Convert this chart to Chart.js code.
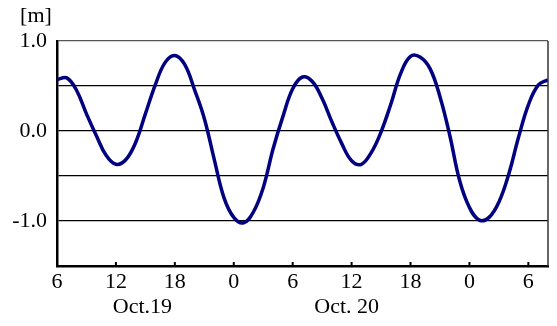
<!DOCTYPE html>
<html>
<head>
<meta charset="utf-8">
<script src="https://cdn.jsdelivr.net/npm/chart.js@4/dist/chart.umd.min.js"></script>
<style>
  html, body { margin: 0; padding: 0; background: #fff; }
  #wrap { width: 557px; height: 326px; position: relative; }
</style>
</head>
<body>
<div id="wrap"><canvas id="chart"></canvas></div>
<script>
// hours since Oct.19 00:00
const hours = [6,7,8,9,10,11,12,13,14,15,16,17,18,19,20,21,22,23,24,25,26,27,28,29,30,
  31,32,33,34,35,36,37,38,39,40,41,42,43,44,45,46,47,48,49,50,51,52,53,54,55,56];
// tide level [m]
const levels = [0.57,0.59,0.45,0.19,-0.05,-0.27,-0.37,-0.32,-0.13,0.19,0.51,0.76,0.84,0.74,0.46,0.14,
  -0.31,-0.74,-0.96,-1.02,-0.90,-0.63,-0.20,0.16,0.47,0.60,0.55,0.36,0.10,-0.14,-0.33,-0.37,-0.24,
  -0.01,0.30,0.64,0.83,0.82,0.69,0.38,-0.05,-0.55,-0.85,-0.99,-0.96,-0.79,-0.48,-0.07,0.29,0.51,0.57];
const yLabels = ['1.0', '0.0', '-1.0'];
const dayLabels = [{ text: 'Oct.19', at: 14.7 }, { text: 'Oct. 20', at: 35.5 }];

const FONT = '"Liberation Serif", "DejaVu Serif", serif';

const extras = {
  id: 'extras',
  afterDraw(chart) {
    const { ctx, chartArea, scales } = chart;
    ctx.save();
    // right border
    ctx.strokeStyle = '#333';
    ctx.lineWidth = 1.5;
    ctx.beginPath();
    ctx.moveTo(chartArea.right, chartArea.top);
    ctx.lineTo(chartArea.right, chartArea.bottom);
    ctx.stroke();
    // inward tick marks on the bottom axis
    ctx.strokeStyle = '#000';
    ctx.lineWidth = 2;
    for (let h = 12; h <= 54; h += 6) {
      const x = scales.x.getPixelForValue(h);
      ctx.beginPath();
      ctx.moveTo(x, chartArea.bottom);
      ctx.lineTo(x, chartArea.bottom - 4);
      ctx.stroke();
    }
    // unit and date labels
    ctx.fillStyle = '#000';
    ctx.font = '22px ' + FONT;
    ctx.textAlign = 'center';
    ctx.textBaseline = 'middle';
    ctx.fillText('[m]', 36, 16);
    dayLabels.forEach(d => {
      ctx.fillText(d.text, scales.x.getPixelForValue(d.at), 307);
    });
    ctx.restore();
  }
};

new Chart(document.getElementById('chart'), {
  type: 'line',
  data: {
    datasets: [{
      data: hours.map((h, i) => ({ x: h, y: levels[i] })),
      borderColor: '#000080',
      borderWidth: 3.5,
      pointRadius: 0,
      tension: 0.4,
      fill: false
    }]
  },
  options: {
    responsive: true,
    maintainAspectRatio: false,
    animation: false,
    layout: { padding: { top: 41, right: 9, left: 0, bottom: 0 } },
    plugins: { legend: { display: false }, tooltip: { enabled: false } },
    scales: {
      x: {
        type: 'linear',
        min: 6,
        max: 56,
        afterFit(scale) { scale.height = 60; },
        afterBuildTicks(scale) {
          scale.ticks = [6,12,18,24,30,36,42,48,54].map(v => ({ value: v }));
        },
        grid: { display: false, drawTicks: false },
        border: { display: true, color: '#000', width: 2.5 },
        ticks: {
          padding: 3,
          color: '#000',
          font: { family: FONT, size: 22 },
          callback: v => String(v % 24)
        }
      },
      y: {
        min: -1.5,
        max: 1.0,
        afterFit(scale) { scale.width = 57; },
        grid: {
          drawTicks: false,
          lineWidth: 1.2,
          color: ctx => ctx.tick && ctx.tick.value === 1 ? '#555' : '#000'
        },
        border: { display: true, color: '#000', width: 2.5 },
        ticks: {
          stepSize: 0.5,
          padding: 10,
          color: '#000',
          font: { family: FONT, size: 22 },
          callback: v => {
            const s = v.toFixed(1);
            return yLabels.includes(s) ? s : '';
          }
        }
      }
    }
  },
  plugins: [extras]
});
</script>
</body>
</html>
